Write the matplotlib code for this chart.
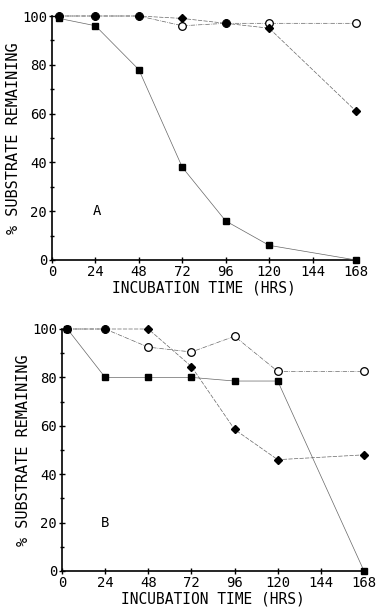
# Substrate disappearance during incubation, panels A and B

import numpy as np
import matplotlib.pyplot as plt
from matplotlib.ticker import MultipleLocator

# Panel A data
tA = [4, 24, 48, 72, 96, 120, 168]
circA = [100, 100, 100, 96, 97, 97, 97]
diamA = [100, 100, 100, 99, 97, 95, 61]
sqA = [99, 96, 78, 38, 16, 6, 0]

# Panel B data
tB = [3, 24, 48, 72, 96, 120, 168]
circB = [100, 100, 92.5, 90.5, 97, 82.5, 82.5]
diamB = [100, 100, 100, 84.5, 58.5, 46, 48]
sqB = [100, 80, 80, 80, 78.5, 78.5, 0]

xticks = [0, 24, 48, 72, 96, 120, 144, 168]
yticks = [0, 20, 40, 60, 80, 100]

plt.rcParams['font.family'] = 'DejaVu Sans Mono'

fig = plt.figure(figsize=(3.81, 6.11), dpi=100)
W, H = 381, 611
axA = fig.add_axes([52/W, 1-260/H, 304/W, 244/H])
axB = fig.add_axes([62/W, 1-571/H, 302/W, 242/H])

def panel(ax, t, circ, diam, sq, letter, lx):
    ax.plot(t, circ, color='0.4', lw=0.5, ls='-.', marker='o', ms=5.5,
            mfc='white', mec='black', mew=0.9, zorder=3)
    ax.plot(t, diam, color='0.4', lw=0.5, ls=(0, (6, 2)), marker='D', ms=4,
            mfc='black', mec='black', zorder=3)
    ax.plot(t, sq, color='0.4', lw=0.5, ls='-', marker='s', ms=5,
            mfc='black', mec='black', zorder=3)
    ax.set_xlim(0, 168)
    ax.set_ylim(0, 100)
    ax.set_xticks(xticks)
    ax.set_yticks(yticks)
    ax.yaxis.set_minor_locator(MultipleLocator(10))
    ax.spines['top'].set_visible(False)
    ax.spines['right'].set_visible(False)
    ax.spines['left'].set_linewidth(1.2)
    ax.spines['bottom'].set_linewidth(1.2)
    ax.tick_params(direction='inout', length=5, width=1, labelsize=10, pad=1)
    ax.tick_params(which='minor', direction='inout', length=3, width=1)
    ax.set_xlabel('INCUBATION TIME (HRS)', fontsize=10.5, labelpad=1)
    ax.set_ylabel('% SUBSTRATE REMAINING', fontsize=11, labelpad=1)
    ax.text(lx, 20, letter, fontsize=10, ha='center', va='center')
    for ln in ax.lines:
        ln.set_clip_on(False)

panel(axA, tA, circA, diamA, sqA, 'A', 25)
panel(axB, tB, circB, diamB, sqB, 'B', 24)

plt.savefig('out.png', dpi=100)
